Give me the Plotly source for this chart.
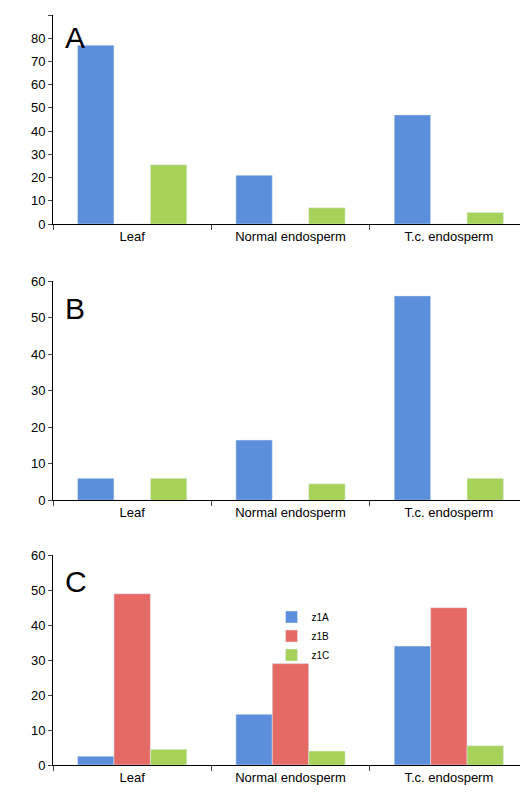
import plotly.graph_objects as go
from plotly.subplots import make_subplots

categories = ['Leaf', 'Normal endosperm', 'T.c. endosperm']

a_z1a = [77, 21, 47]
a_z1b = [0, 0, 0]
a_z1c = [25.5, 7, 5]

b_z1a = [6, 16.5, 56]
b_z1b = [0, 0, 0]
b_z1c = [6, 4.5, 6]

c_z1a = [2.5, 14.5, 34]
c_z1b = [49, 29, 45]
c_z1c = [4.5, 4, 5.5]

colors = {'z1A': '#5b8fdc', 'z1B': '#e56a66', 'z1C': '#a6d25a'}

fig = make_subplots(rows=3, cols=1)
panels = [(a_z1a, a_z1b, a_z1c), (b_z1a, b_z1b, b_z1c), (c_z1a, c_z1b, c_z1c)]
for row, (za, zb, zc) in enumerate(panels, start=1):
    for name, vals in [('z1A', za), ('z1B', zb), ('z1C', zc)]:
        fig.add_trace(go.Bar(x=categories, y=vals, name=name,
                             marker_color=colors[name],
                             showlegend=(row == 3)), row=row, col=1)

domains = [[0.726, 1.0], [0.364, 0.651], [0.017, 0.292]]
ranges = [[0, 90], [0, 60], [0, 60]]
for i in range(3):
    fig.update_yaxes(domain=domains[i], range=ranges[i], dtick=10,
                     showgrid=False, showline=True, linecolor='black',
                     ticks='outside', ticklen=4, row=i + 1, col=1)
    fig.update_xaxes(showline=True, linecolor='black', ticks='outside',
                     tickson='boundaries', ticklen=5, row=i + 1, col=1)

for letter, ypos in [('A', 0.995), ('B', 0.64), ('C', 0.282)]:
    fig.add_annotation(text=letter, xref='paper', yref='paper', x=0.02, y=ypos,
                       xanchor='left', yanchor='top', showarrow=False,
                       font=dict(size=30, color='black'))

fig.update_layout(width=528, height=800, barmode='group', bargap=0.31, bargroupgap=0,
                  plot_bgcolor='white', paper_bgcolor='white',
                  margin=dict(l=45, r=8, t=0, b=30),
                  font=dict(family='Liberation Sans, Arial', size=13, color='black'),
                  legend=dict(x=0.46, y=0.23, xanchor='left', yanchor='top',
                              font=dict(size=10), tracegroupgap=14, itemwidth=30,
                              bgcolor='rgba(0,0,0,0)'))

fig.write_html('out.html')
